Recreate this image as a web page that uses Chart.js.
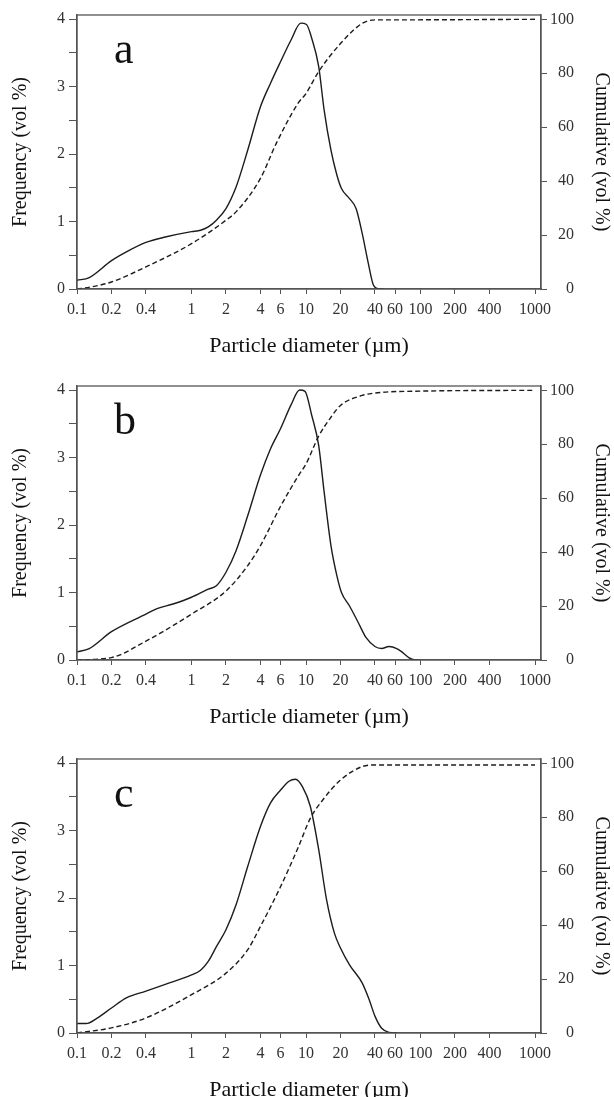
<!DOCTYPE html>
<html>
<head>
<meta charset="utf-8">
<script src="https://cdn.jsdelivr.net/npm/chart.js@4/dist/chart.umd.min.js"></script>
<style>
  html, body { margin: 0; padding: 0; background: #fff; }
  body { width: 614px; height: 1097px; position: relative; overflow: hidden; }
  .panel { position: absolute; left: 0; width: 614px; height: 362px; }
</style>
</head>
<body>
<div class="panel" style="top:0px"><canvas id="chart-a"></canvas></div>
<div class="panel" style="top:371px"><canvas id="chart-b"></canvas></div>
<div class="panel" style="top:744px"><canvas id="chart-c"></canvas></div>
<script>
// tick values on the log axis
const diameterTicks = [0.1, 0.2, 0.4, 1, 2, 4, 6, 10, 20, 40, 60, 100, 200, 400, 1000];
const freqTicks = [0, 0.5, 1, 1.5, 2, 2.5, 3, 3.5, 4];
const cumTicks = [0, 20, 40, 60, 80, 100];

// panel a
const sizeFreqA = [0.1, 0.128, 0.2, 0.27, 0.4, 0.59, 1.0, 1.2, 1.4, 1.65, 2, 2.45, 3.1, 4, 4.9, 6, 7.4, 9, 10.1, 11.2, 12.9, 14.4, 16.5, 18.6, 20.4, 24, 27.4, 31, 35, 39, 44, 47];
const freqA = [0.13, 0.17, 0.42, 0.55, 0.69, 0.77, 0.85, 0.87, 0.92, 1.02, 1.19, 1.51, 2.06, 2.7, 3.05, 3.37, 3.69, 3.94, 3.92, 3.72, 3.3, 2.65, 2.06, 1.69, 1.49, 1.34, 1.19, 0.82, 0.38, 0.05, 0.0, 0.0];
const sizeCumA = [0.1, 0.13, 0.2, 0.4, 1, 2, 2.45, 4, 5.5, 8.5, 10, 12.9, 20, 31, 40, 60, 1000];
const cumA = [0, 0.7, 2.6, 8.2, 16.8, 25.5, 28.6, 41, 54, 68.8, 72.5, 80.6, 91, 98.5, 99.8, 99.8, 100];

// panel b
const sizeFreqB = [0.1, 0.128, 0.2, 0.4, 0.5, 0.69, 1, 1.4, 1.65, 2, 2.45, 3.1, 4, 4.9, 6, 7.4, 8.8, 9.8, 11.2, 12.9, 14.4, 16.5, 18.6, 20.4, 24, 28.5, 33.5, 40, 45.8, 53, 62, 70, 79, 92, 100];
const freqB = [0.12, 0.17, 0.42, 0.68, 0.76, 0.83, 0.93, 1.05, 1.1, 1.3, 1.62, 2.14, 2.74, 3.13, 3.43, 3.78, 4.0, 3.98, 3.63, 3.18, 2.49, 1.7, 1.25, 1.0, 0.8, 0.56, 0.33, 0.2, 0.17, 0.2, 0.17, 0.11, 0.035, 0, 0];
const sizeCumB = [0.1, 0.2, 0.4, 1, 2, 3.1, 4, 6, 8.6, 10, 12.9, 16.5, 20, 31, 40, 100, 1000];
const cumB = [0, 0.9, 7, 17, 25.6, 35, 42.4, 57, 68.4, 72.7, 83, 90, 94.4, 98.1, 99, 99.7, 100];

// panel c
const sizeFreqC = [0.1, 0.12, 0.15, 0.2, 0.27, 0.4, 0.59, 1, 1.2, 1.4, 1.65, 2, 2.45, 3.1, 4, 4.9, 6, 7.1, 8.1, 9.3, 10.9, 12.9, 15.1, 17.7, 20, 24, 31, 35.7, 40, 45.8, 53, 62];
const freqC = [0.14, 0.14, 0.22, 0.37, 0.52, 0.62, 0.72, 0.86, 0.93, 1.06, 1.28, 1.53, 1.9, 2.47, 3.06, 3.41, 3.6, 3.73, 3.76, 3.65, 3.36, 2.72, 1.98, 1.48, 1.26, 1.01, 0.74, 0.49, 0.25, 0.07, 0.01, 0];
const sizeCumC = [0.1, 0.2, 0.4, 1, 2, 3.1, 4, 6, 8.6, 10.9, 14, 20, 31, 40, 1000];
const cumC = [0, 1.9, 5.6, 14.2, 22.2, 30.9, 39.5, 54.3, 69.1, 79.6, 86.4, 93.8, 98.8, 99.4, 99.4];

const serif = "'Liberation Serif', 'DejaVu Serif', serif";
const inkColor = "#1c1c1c";
const frameColor = "#555555";
const textColor = "#333333";

function toPoints(xs, ys) {
  return xs.map((x, i) => ({ x: x, y: ys[i] }));
}

// draws the box round the plot and the panel letter
const framePlugin = {
  id: "frame",
  afterDraw(chart, args, opts) {
    const { ctx, chartArea } = chart;
    ctx.save();
    ctx.strokeStyle = frameColor;
    ctx.lineWidth = 1.3;
    ctx.strokeRect(chartArea.left, chartArea.top, chartArea.right - chartArea.left, chartArea.bottom - chartArea.top);
    ctx.fillStyle = "#111";
    ctx.font = "44px " + serif;
    ctx.textBaseline = "alphabetic";
    ctx.fillText(opts.letter, chartArea.left + 37, chartArea.top + 48);
    ctx.restore();
  },
};

function makePanel(id, letter, sFreq, freq, sCum, cum) {
  const ctx = document.getElementById(id).getContext("2d");
  return new Chart(ctx, {
    type: "line",
    data: {
      datasets: [
        {
          label: "Frequency",
          data: toPoints(sFreq, freq),
          yAxisID: "y",
          borderColor: inkColor,
          borderWidth: 1.4,
          pointRadius: 0,
          cubicInterpolationMode: "monotone",
          fill: false,
        },
        {
          label: "Cumulative",
          data: toPoints(sCum, cum),
          yAxisID: "y1",
          borderColor: inkColor,
          borderWidth: 1.4,
          borderDash: [5, 3],
          pointRadius: 0,
          cubicInterpolationMode: "monotone",
          fill: false,
        },
      ],
    },
    options: {
      responsive: true,
      maintainAspectRatio: false,
      animation: false,
      layout: { padding: { top: 15, left: 0, right: 0, bottom: 0 } },
      plugins: {
        legend: { display: false },
        tooltip: { enabled: false },
        frame: { letter: letter },
      },
      scales: {
        x: {
          type: "logarithmic",
          min: 0.1,
          max: 1128,
          afterFit: (s) => { s.height = 73; },
          afterBuildTicks: (s) => { s.ticks = diameterTicks.map((v) => ({ value: v })); },
          grid: { drawOnChartArea: false, tickLength: 5, color: frameColor },
          border: { color: frameColor, width: 1.3 },
          ticks: {
            autoSkip: false,
            maxRotation: 0,
            padding: 6,
            color: textColor,
            font: { family: serif, size: 16 },
            callback: (v) => String(v),
          },
          title: {
            display: true,
            text: "Particle diameter (µm)",
            color: "#111",
            font: { family: serif, size: 22, lineHeight: 1.2 },
            padding: { top: 0, bottom: 3 },
          },
        },
        y: {
          position: "left",
          min: 0,
          max: 4.06,
          afterFit: (s) => { s.width = 77; },
          afterBuildTicks: (s) => { s.ticks = freqTicks.map((v) => ({ value: v })); },
          grid: { drawOnChartArea: false, tickLength: 8, color: frameColor },
          border: { color: frameColor, width: 1.3 },
          ticks: {
            padding: 4,
            color: textColor,
            font: { family: serif, size: 16 },
            callback: (v) => (Number.isInteger(v) ? String(v) : ""),
          },
          title: {
            display: true,
            text: "Frequency (vol %)",
            color: "#111",
            font: { family: serif, size: 20, lineHeight: 1.2 },
            padding: { top: 9, bottom: 0 },
          },
        },
        y1: {
          position: "right",
          min: 0,
          max: 101.6,
          afterFit: (s) => { s.width = 73; },
          afterBuildTicks: (s) => { s.ticks = cumTicks.map((v) => ({ value: v })); },
          grid: { drawOnChartArea: false, tickLength: 6, color: frameColor },
          border: { color: frameColor, width: 1.3 },
          ticks: {
            padding: 3,
            color: textColor,
            font: { family: serif, size: 16 },
            // figure spaces keep the labels right-aligned
            callback: (v) => String(v).padStart(3, "\u2007"),
          },
          title: {
            display: true,
            text: "Cumulative (vol %)",
            color: "#111",
            font: { family: serif, size: 20, lineHeight: 1.2 },
            padding: { top: 1, bottom: 0 },
          },
        },
      },
    },
    plugins: [framePlugin],
  });
}

makePanel("chart-a", "a", sizeFreqA, freqA, sizeCumA, cumA);
makePanel("chart-b", "b", sizeFreqB, freqB, sizeCumB, cumB);
makePanel("chart-c", "c", sizeFreqC, freqC, sizeCumC, cumC);
</script>
</body>
</html>
